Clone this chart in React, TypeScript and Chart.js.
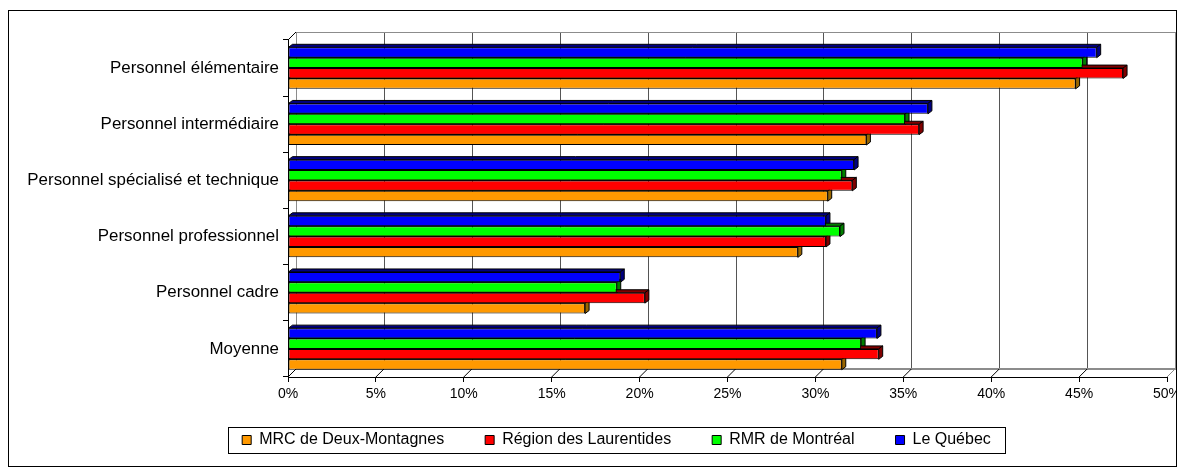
import React, { useEffect, useRef } from "react";
import { Chart, registerables } from "chart.js";

Chart.register(...registerables);

// ---------- data ----------
const categories = [
  "Personnel élémentaire",
  "Personnel intermédiaire",
  "Personnel spécialisé et technique",
  "Personnel professionnel",
  "Personnel cadre",
  "Moyenne",
];
const seriesNames = ["Le Québec", "RMR de Montréal", "Région des Laurentides", "MRC de Deux-Montagnes"];
const quebec = [46.0, 36.4, 32.2, 30.6, 18.9, 33.5];
const rmrMontreal = [45.2, 35.1, 31.5, 31.4, 18.7, 32.6];
const laurentides = [47.5, 35.9, 32.1, 30.6, 20.3, 33.6];
const deuxMontagnes = [44.8, 32.9, 30.7, 29.0, 16.9, 31.5];
const xMin = 0;
const xMax = 50;
const xStep = 5;

// ---------- styles ----------
const FONT = "'Liberation Sans', Arial, Helvetica, sans-serif";
const fillColors = ["#0000FF", "#00FF00", "#FF0000", "#FF9900"];
const darkColors = ["#000080", "#008000", "#800000", "#996600"];
const DX = 8;
const DY = -8;
const BX = 4;
const BY = -3;
const LEGEND_PAD = 41;
const LEGEND_SHIFT_X = 28.5;
const LEGEND_SHIFT_Y = -13;

const threeD = {
  id: "threeD",
  afterLayout(chart: any) {
    const lg = chart.legend;
    if (!lg) return;
    lg.left += LEGEND_SHIFT_X;
    lg.right += LEGEND_SHIFT_X;
    lg.top += LEGEND_SHIFT_Y;
    lg.bottom += LEGEND_SHIFT_Y;
  },
  beforeDatasetsDraw(chart: any) {
    const { ctx, chartArea } = chart;
    const { left: L, right: R, top: T, bottom: B } = chartArea;
    const xs = chart.scales.x;
    const line = (x1: number, y1: number, x2: number, y2: number) => {
      ctx.beginPath();
      ctx.moveTo(x1, y1);
      ctx.lineTo(x2, y2);
      ctx.stroke();
    };
    ctx.save();
    ctx.lineWidth = 1;
    ctx.strokeStyle = "#555555";
    xs.ticks.forEach((t: any, i: number) => {
      const px = Math.round(xs.getPixelForValue(t.value)) + DX + 0.5;
      ctx.strokeStyle = i === 0 || i === xs.ticks.length - 1 ? "#8c8c8c" : "#555555";
      line(px, T + DY, px, B + DY);
    });
    ctx.strokeStyle = "#8c8c8c";
    line(L + DX, Math.round(T + DY) + 0.5, R + DX, Math.round(T + DY) + 0.5);
    ctx.lineWidth = 2;
    line(L + DX, B + DY, R + DX + 1, B + DY);
    ctx.lineWidth = 1;
    ctx.strokeStyle = "#000";
    xs.ticks.forEach((t: any) => {
      const px = xs.getPixelForValue(t.value);
      line(px, B, px + DX, B + DY);
    });
    line(L, T, L + DX, T + DY);
    ctx.strokeStyle = "#8c8c8c";
    line(R, B, R + DX, B + DY);

    chart.data.datasets.forEach((_ds: any, di: number) => {
      const meta = chart.getDatasetMeta(di);
      if (meta.hidden) return;
      meta.data.forEach((bar: any) => {
        const { x, y, base, height } = bar.getProps(["x", "y", "base", "height"], true);
        const l = Math.min(x, base);
        const r = Math.max(x, base);
        const t = y - height / 2;
        const b = y + height / 2;
        ctx.fillStyle = darkColors[di];
        ctx.strokeStyle = "#000";
        ctx.lineWidth = 1;
        ctx.beginPath();
        ctx.moveTo(l, t);
        ctx.lineTo(l + BX, t + BY);
        ctx.lineTo(r + BX, t + BY);
        ctx.lineTo(r, t);
        ctx.closePath();
        ctx.fill();
        ctx.stroke();
        ctx.beginPath();
        ctx.moveTo(r, t);
        ctx.lineTo(r + BX, t + BY);
        ctx.lineTo(r + BX, b + BY);
        ctx.lineTo(r, b);
        ctx.closePath();
        ctx.fill();
        ctx.stroke();
      });
    });
    ctx.restore();
  },
  afterDraw(chart: any) {
    const lg = chart.legend;
    if (!lg || !lg.legendHitBoxes || !lg.legendHitBoxes.length) return;
    const hb = lg.legendHitBoxes;
    let l = Infinity;
    let r = -Infinity;
    let cy = 0;
    hb.forEach((h: any) => {
      l = Math.min(l, h.left);
      r = Math.max(r, h.left + h.width);
      cy = h.top + h.height / 2;
    });
    const ctx = chart.ctx;
    ctx.save();
    ctx.strokeStyle = "#000";
    ctx.lineWidth = 1;
    ctx.strokeRect(Math.round(l - 14) + 0.5, Math.round(cy - 13) + 0.5, Math.round(r - l + 28), 26);
    ctx.restore();
  },
};

export default function App() {
  const ref = useRef<HTMLCanvasElement | null>(null);
  useEffect(() => {
    if (!ref.current) return;
    Chart.defaults.font.family = FONT;
    Chart.defaults.color = "#000";
    const seriesData = [quebec, rmrMontreal, laurentides, deuxMontagnes];
    const chart = new Chart(ref.current, {
      type: "bar",
      data: {
        labels: categories,
        datasets: seriesNames.map((name, i) => ({
          label: name,
          data: seriesData[i],
          backgroundColor: fillColors[i],
          borderColor: "#000",
          borderWidth: 1,
          borderSkipped: false,
          categoryPercentage: 0.74,
          barPercentage: 1,
        })),
      },
      options: {
        indexAxis: "y",
        responsive: false,
        animation: false,
        devicePixelRatio: 1,
        layout: { padding: { top: 29, right: 9, bottom: 2, left: 0 } },
        plugins: {
          tooltip: { enabled: false },
          legend: {
            position: "bottom",
            reverse: true,
            maxHeight: 60,
            labels: {
              boxWidth: 9,
              boxHeight: 9,
              padding: LEGEND_PAD,
              color: "#000",
              font: { size: 16, family: FONT },
            },
          },
        },
        scales: {
          x: {
            min: xMin,
            max: xMax,
            ticks: {
              stepSize: xStep,
              callback: (v: any) => v + "%",
              color: "#000",
              font: { size: 14, family: FONT },
              padding: 4,
              maxRotation: 0,
              autoSkip: false,
            },
            grid: { drawOnChartArea: false, drawTicks: true, tickLength: 5, color: "#000" },
            border: { display: true, color: "#000" },
            afterFit: (s: any) => {
              s.height = 27;
              s.paddingLeft = 0;
              s.paddingRight = 0;
            },
          },
          y: {
            ticks: { color: "#000", font: { size: 16.9, family: FONT }, padding: 4 },
            grid: { drawOnChartArea: false, drawTicks: true, tickLength: 5, color: "#000", offset: true },
            border: { display: true, color: "#000" },
            afterFit: (s: any) => {
              s.width = 279;
              s.paddingTop = 0;
              s.paddingBottom = 0;
            },
          },
        },
      },
      plugins: [threeD],
    } as any);
    return () => chart.destroy();
  }, []);
  return (
    <div
      style={{
        position: "absolute",
        left: 8,
        top: 10,
        width: 1169,
        height: 457,
        border: "1px solid #000",
        boxSizing: "border-box",
        background: "#fff",
      }}
    >
      <canvas ref={ref} width={1167} height={455} style={{ display: "block" }} />
    </div>
  );
}
